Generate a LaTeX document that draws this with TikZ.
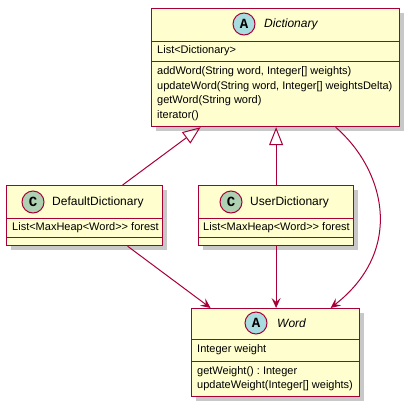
\documentclass[tikz,border=0pt]{standalone}
\usepackage{fontspec}
\setmainfont{Liberation Sans}
\newfontfamily\spotfont{Liberation Mono}
\usetikzlibrary{arrows.meta,shadows}
\frenchspacing

\definecolor{umlred}{HTML}{A80036}
\definecolor{umlfill}{HTML}{FEFECE}
\definecolor{absfill}{HTML}{A9DCDF}
\definecolor{clsfill}{HTML}{ADD1B2}

\tikzset{
  classbox/.style={rectangle, draw=umlred, fill=umlfill, line width=1.2pt, anchor=north west, inner sep=0pt,
    drop shadow={shadow xshift=4pt, shadow yshift=-4pt, opacity=0.3, fill=black!70}},
  sep/.style={draw=umlred, line width=1pt},
  spot/.style={circle, draw=umlred, fill=#1, line width=1pt, minimum size=22pt, inner sep=0pt,
    font=\spotfont\bfseries\fontsize{14}{14}\selectfont},
  cname/.style={anchor=west, inner sep=0pt, font=\fontsize{12}{14}\selectfont},
  member/.style={anchor=west, inner sep=0pt, font=\fontsize{11}{13}\selectfont},
  extends/.style={draw=umlred, line width=1pt, -{Triangle[open, length=18pt, width=14pt]}},
  uses/.style={draw=umlred, line width=1pt, -{Stealth[length=10pt, width=9pt, inset=4pt]}}
}

\begin{document}
\begin{tikzpicture}[x=1pt,y=-1pt]
    \fill[white] (0,0) rectangle (409,407);

    % Dictionary
    \node[classbox, minimum width=248pt, minimum height=118pt] (dict) at (151,8) {};
    \draw[sep] (151,41) -- (399,41);
    \draw[sep] (151,61) -- (399,61);
    \node[spot=absfill] (dictspot) at (244,24) {A};
    \node[cname, font=\fontsize{12}{14}\selectfont\itshape] (dictname) at (264,24) {Dictionary};
    \node[member] (dictfield) at (157,51) {List<Dictionary>};
    \foreach \y/\t in {72/{addWord(String word, Integer[] weights)},
                       86.5/{updateWord(String word, Integer[] weightsDelta)},
                       101/{getWord(String word)},
                       115.5/{iterator()}}
        \node[member] at (157,\y) {\t};

    % DefaultDictionary
    \node[classbox, minimum width=156pt, minimum height=60pt] (defdict) at (6,185) {};
    \draw[sep] (6,218) -- (162,218);
    \draw[sep] (6,237) -- (162,237);
    \node[spot=clsfill] (defspot) at (33,202) {C};
    \node[cname] (defname) at (52,202) {DefaultDictionary};
    \node[member] (deffield) at (12,228) {List<MaxHeap<Word>{}> forest};

    % UserDictionary
    \node[classbox, minimum width=155pt, minimum height=60pt] (userdict) at (198,185) {};
    \draw[sep] (198,218) -- (353,218);
    \draw[sep] (198,237) -- (353,237);
    \node[spot=clsfill] (userspot) at (231,202) {C};
    \node[cname] (username) at (250,202) {UserDictionary};
    \node[member] (userfield) at (203,228) {List<MaxHeap<Word>{}> forest};

    % Word
    \node[classbox, minimum width=168pt, minimum height=88pt] (word) at (191,308) {};
    \draw[sep] (191,339) -- (359,339);
    \draw[sep] (191,361) -- (359,361);
    \node[spot=absfill] (wordspot) at (256,323) {A};
    \node[cname, font=\fontsize{12}{14}\selectfont\itshape] (wordname) at (277,323) {Word};
    \node[member] (wordfield) at (197,350) {Integer weight};
    \node[member] (wordget) at (197,372) {getWeight() : Integer};
    \node[member] (wordupd) at (197,386) {updateWeight(Integer[] weights)};

    % connectors
    \draw[extends] ([xshift=38pt]defdict.north) -- ([xshift=-75pt]dict.south);
    \draw[extends] (userdict.north) -- (userdict.north |- dict.south);
    \draw[uses] ([xshift=43pt]defdict.south) -- ([xshift=-65pt]word.north);
    \draw[uses] (userdict.south) -- (userdict.south |- word.north);
    \draw[uses] ([xshift=60pt]dict.south) .. controls (385,170) and (405,250) .. ([xshift=55pt]word.north);
\end{tikzpicture}
\end{document}
